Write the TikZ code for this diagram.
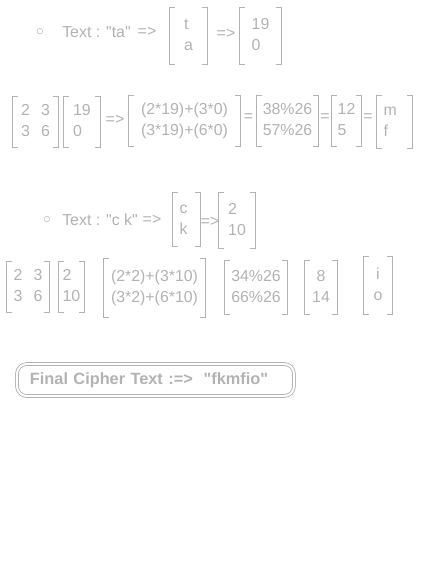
\documentclass[tikz,border=0pt]{standalone}
\usepackage{fontspec}
\setmainfont{Liberation Sans}[Ligatures=TeXOff]
\colorlet{ink}{black!30}
\newcommand{\brk}[1]{%
  \draw[brkline] ([xshift=3.5pt]#1.north west) -| (#1.south west) -- ++(5,0)
                 ([xshift=-3.5pt]#1.north east) -| (#1.south east) -- ++(-5,0);}
\begin{document}
\begin{tikzpicture}[x=0.025cm, y=-0.025cm,
  every node/.style={text=ink, font=\fontsize{11.3}{15}\selectfont, inner sep=0pt},
  mat/.style 2 args={minimum width=#1*0.7113pt, minimum height=#2*0.7113pt},
  brkline/.style={draw=ink, line width=0.8pt},
  finalbox/.style={draw=ink, double, double distance=1.4pt, line width=0.6pt, rounded corners=7pt,
    font=\fontsize{11.6}{15}\selectfont\bfseries, text width=251*0.7113pt, align=left,
    inner xsep=13*0.7113pt, minimum height=32*0.7113pt}]
\useasboundingbox (0,0) rectangle (442,564);

% first pair of letters
\node (b1) at (40,32) {$\circ$};
\node[anchor=west] (t1) at (62,32) {Text : "ta"};
\node (r1a) at (147,32) {=>};
\node[mat={37}{56}] (ta) at (188.5,36) {\begin{tabular}{@{}l@{}}t\\a\end{tabular}};
\node (r1b) at (226,34) {=>};
\node[mat={41}{56}] (num1) at (260.5,36) {\begin{tabular}{@{}l@{}}19\\0\end{tabular}};

\node[mat={45}{50}] (key1) at (35.5,122) {\begin{tabular}{@{}c@{\hspace{8pt}}c@{}}2&3\\3&6\end{tabular}};
\node[mat={36}{50}] (vec1) at (82,122) {\begin{tabular}{@{}l@{}}19\\0\end{tabular}};
\node (r2) at (115,120) {=>};
\node[mat={111}{50}] (prod1) at (184.5,121) {\begin{tabular}{@{}c@{}}(2*19)+(3*0)\\(3*19)+(6*0)\end{tabular}};
\node (e1) at (248.5,118) {=};
\node[mat={61}{50}] (mod1) at (287.5,121) {\begin{tabular}{@{}l@{}}38\%26\\57\%26\end{tabular}};
\node (e2) at (325,118) {=};
\node[mat={29}{50}] (res1) at (346.5,121) {\begin{tabular}{@{}l@{}}12\\5\end{tabular}};
\node (e3) at (368,118) {=};
\node[mat={35}{52}] (ct1) at (394.5,122) {\begin{tabular}{@{}l@{\hspace{6pt}}}m\\f\end{tabular}};

% second pair of letters
\node (b2) at (47,220) {$\circ$};
\node[anchor=west] (t2) at (62,220) {Text : "c k"};
\node (r3a) at (152,220) {=>};
\node[mat={27}{53}] (ck) at (186.5,219.5) {\begin{tabular}{@{}l@{\hspace{4pt}}}c\\k\end{tabular}};
\node (r3b) at (210,222) {=>};
\node[mat={36}{55}] (num2) at (237,220.5) {\begin{tabular}{@{}l@{}}2\\10\end{tabular}};

\node[mat={42}{50}] (key2) at (28,287) {\begin{tabular}{@{}c@{\hspace{8pt}}c@{}}2&3\\3&6\end{tabular}};
\node[mat={25}{50}] (vec2) at (71.5,287) {\begin{tabular}{@{}l@{}}2\\10\end{tabular}};
\node[mat={101}{58}] (prod2) at (154.5,288) {\begin{tabular}{@{}c@{}}(2*2)+(3*10)\\(3*2)+(6*10)\end{tabular}};
\node[mat={62}{53}] (mod2) at (256,287.5) {\begin{tabular}{@{}l@{}}34\%26\\66\%26\end{tabular}};
\node[mat={32}{53}] (res2) at (321,287.5) {\begin{tabular}{@{}c@{}}8\\14\end{tabular}};
\node[mat={28}{57}] (ct2) at (378,285.5) {\begin{tabular}{@{}c@{}}i\\o\end{tabular}};

\foreach \n in {ta,num1,key1,vec1,prod1,mod1,res1,ct1,ck,num2,key2,vec2,prod2,mod2,res2,ct2}{
   \brk{\n}
   }

\node[finalbox] (final) at (155.5,380) {Final Cipher Text :=>\ \ "fkmfio"};
\end{tikzpicture}
\end{document}
